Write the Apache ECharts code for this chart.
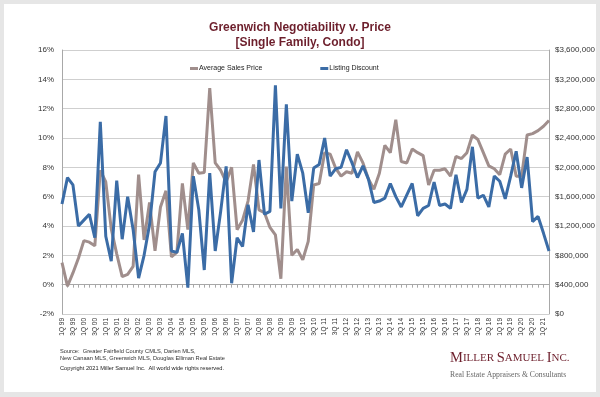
<!DOCTYPE html>
<html>
<head>
<meta charset="utf-8">
<script src="https://cdn.jsdelivr.net/npm/echarts@6/dist/echarts.min.js"></script>
<style>
  html, body { margin: 0; padding: 0; background: #e6e6e6; }
  #frame { position: absolute; left: 4px; top: 4px; width: 592px; height: 388px; background: #fff; }
  #chart { position: absolute; left: 0; top: 0; width: 600px; height: 397px; }
</style>
</head>
<body>
<div id="frame"></div>
<div id="chart"></div>
<script>
// quarters 1Q 99 .. 2Q 21
const quarters = [
  '1Q 99','2Q 99','3Q 99','4Q 99','1Q 00','2Q 00','3Q 00','4Q 00',
  '1Q 01','2Q 01','3Q 01','4Q 01','1Q 02','2Q 02','3Q 02','4Q 02',
  '1Q 03','2Q 03','3Q 03','4Q 03','1Q 04','2Q 04','3Q 04','4Q 04',
  '1Q 05','2Q 05','3Q 05','4Q 05','1Q 06','2Q 06','3Q 06','4Q 06',
  '1Q 07','2Q 07','3Q 07','4Q 07','1Q 08','2Q 08','3Q 08','4Q 08',
  '1Q 09','2Q 09','3Q 09','4Q 09','1Q 10','2Q 10','3Q 10','4Q 10',
  '1Q 11','2Q 11','3Q 11','4Q 11','1Q 12','2Q 12','3Q 12','4Q 12',
  '1Q 13','2Q 13','3Q 13','4Q 13','1Q 14','2Q 14','3Q 14','4Q 14',
  '1Q 15','2Q 15','3Q 15','4Q 15','1Q 16','2Q 16','3Q 16','4Q 16',
  '1Q 17','2Q 17','3Q 17','4Q 17','1Q 18','2Q 18','3Q 18','4Q 18',
  '1Q 19','2Q 19','3Q 19','4Q 19','1Q 20','2Q 20','3Q 20','4Q 20',
  '1Q 21','2Q 21'
]

// average sales price ($, right axis)
const avgPrice = [
  700000, 380000, 560000, 760000, 1000000, 980000, 930000, 1960000,
  1800000, 1160000, 820000, 510000, 540000, 650000, 1900000, 1010000,
  1520000, 860000, 1460000, 1680000, 780000, 840000, 1780000, 1150000,
  2060000, 1920000, 1930000, 3080000, 2060000, 1960000, 1800000, 2000000,
  1150000, 1280000, 1540000, 2040000, 1420000, 1380000, 1180000, 1080000,
  480000, 2010000, 800000, 880000, 740000, 990000, 1760000, 1780000,
  2200000, 2180000, 1990000, 1880000, 1940000, 1920000, 2210000, 2060000,
  1840000, 1700000, 1920000, 2300000, 2200000, 2650000, 2080000, 2060000,
  2250000, 2200000, 2160000, 1760000, 1960000, 1960000, 1980000, 1880000,
  2150000, 2120000, 2200000, 2440000, 2380000, 2200000, 2020000, 1980000,
  1900000, 2180000, 2250000, 1880000, 1880000, 2440000, 2460000, 2500000,
  2560000, 2640000
]

// listing discount (%, left axis)
const listDiscount = [
  5.5, 7.3, 6.8, 4.0, 4.4, 4.8, 3.2, 11.1,
  3.3, 1.6, 7.1, 3.1, 6.0, 3.75, 0.45, 2.0,
  4.1, 7.7, 8.3, 11.5, 2.3, 2.2, 3.5, -0.2,
  7.4, 5.1, 1.0, 7.6, 2.3, 5.0, 8.07, 0.1,
  3.2, 2.6, 5.45, 3.6, 8.5, 4.8, 5.0, 13.6,
  5.2, 12.3, 5.7, 8.9, 7.6, 4.9, 7.95, 8.2,
  10.0, 7.4, 7.9, 8.0, 9.2, 8.3, 7.3, 8.1,
  7.2, 5.6, 5.7, 5.9, 6.9, 6.0, 5.3, 6.1,
  6.9, 4.7, 5.2, 5.4, 7.0, 5.4, 5.5, 5.2,
  7.5, 5.6, 6.5, 9.4, 5.9, 6.1, 5.3, 7.4,
  7.05, 5.85, 7.4, 9.1, 6.6, 8.7, 4.3, 4.65,
  3.5, 2.3
]

const chart = echarts.init(document.getElementById('chart'))

const fmtMoney = v => '$' + v.toLocaleString('en-US')

chart.setOption({
  animation: false,
  textStyle: { fontFamily: 'Liberation Sans, Arial, sans-serif' },
  title: {
    text: 'Greenwich Negotiability v. Price\n[Single Family, Condo]',
    left: 'center',
    top: 15,
    textStyle: { color: '#6d1f2c', fontSize: 12, fontWeight: 'bold', lineHeight: 15 }
  },
  legend: {
    top: 60,
    left: 185,
    itemGap: 58,
    itemWidth: 8,
    itemHeight: 3,
    icon: 'rect',
    textStyle: { fontSize: 7, color: '#222', padding: [0, 0, 0, -4] },
    data: ['Average Sales Price', 'Listing Discount']
  },
  grid: { left: 62, right: 51, top: 50, bottom: 83 },
  xAxis: {
    type: 'category',
    data: quarters,
    boundaryGap: false,
    axisLine: { lineStyle: { color: '#a8a8a8' } },
    axisTick: { interval: 0, length: 3, lineStyle: { color: '#a8a8a8' } },
    axisLabel: { interval: 1, rotate: 90, fontSize: 6.5, color: '#333', margin: 4 }
  },
  yAxis: [{
    type: 'value',
    min: -2, max: 16, interval: 2,
    axisLabel: { formatter: '{value}%', fontSize: 8, color: '#333', margin: 8 },
    axisLine: { show: true, lineStyle: { color: '#a8a8a8' } },
    splitLine: { lineStyle: { color: '#cfcfcf' } }
  }, {
    type: 'value',
    min: 0, max: 3600000, interval: 400000,
    axisLabel: { formatter: fmtMoney, fontSize: 8, color: '#333', margin: 6 },
    axisLine: { show: true, lineStyle: { color: '#a8a8a8' } },
    splitLine: { show: false }
  }],
  series: [{
    name: 'Average Sales Price',
    type: 'line',
    yAxisIndex: 1,
    data: avgPrice,
    symbol: 'none',
    lineStyle: { color: '#a08e8c', width: 3 },
    itemStyle: { color: '#a08e8c' }
  }, {
    name: 'Listing Discount',
    type: 'line',
    data: listDiscount,
    symbol: 'none',
    lineStyle: { color: '#3b6ca6', width: 3 },
    itemStyle: { color: '#3b6ca6' }
  }],
  graphic: [{
    type: 'text', left: 60, top: 348,
    style: {
      text: 'Source:  Greater Fairfield County CMLS, Darien MLS,\nNew Canaan MLS, Greenwich MLS, Douglas Elliman Real Estate',
      font: '5.7px Liberation Sans, Arial, sans-serif', fill: '#333', lineHeight: 7
    }
  }, {
    type: 'text', left: 60, top: 365,
    style: {
      text: 'Copyright 2021 Miller Samuel Inc.  All world wide rights reserved.',
      font: '5.7px Liberation Sans, Arial, sans-serif', fill: '#222'
    }
  }, {
    type: 'text', left: 450, top: 351,
    style: {
      text: '{a|M}{b|ILLER }{a|S}{b|AMUEL }{a|I}{b|NC.}',
      rich: {
        a: { fontFamily: 'Liberation Serif, serif', fontSize: 14.5, fill: '#6d1f2c', color: '#6d1f2c' },
        b: { fontFamily: 'Liberation Serif, serif', fontSize: 11, fill: '#6d1f2c', color: '#6d1f2c' }
      }
    }
  }, {
    type: 'text', left: 450, top: 371,
    style: {
      text: 'Real Estate Appraisers & Consultants',
      font: '7.7px Liberation Serif, serif', fill: '#666'
    }
  }]
})
</script>
</body>
</html>
